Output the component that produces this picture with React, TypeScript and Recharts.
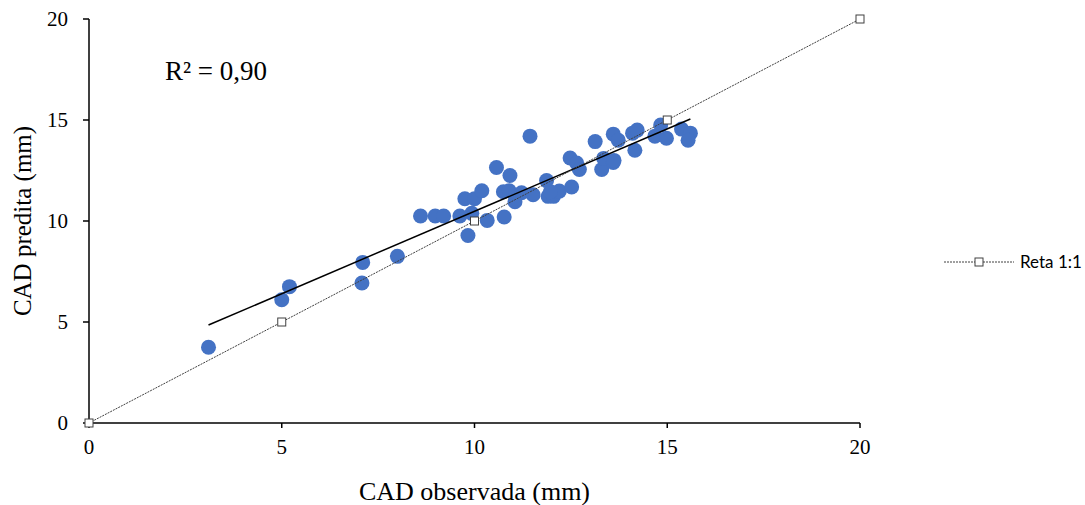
import { ScatterChart, Scatter, XAxis, YAxis } from "recharts";

// CAD observada (mm)
const observed = [
  3.1, 5.0, 5.2, 7.1, 7.08, 8.0, 8.6, 8.98, 9.2, 9.62, 9.93, 9.83, 9.75, 10.0,
  10.19, 10.33, 10.57, 10.77, 10.92, 10.75, 10.9, 11.05, 11.22, 11.52, 11.44,
  11.87, 11.91, 12.05, 12.2, 11.97, 12.52, 12.48, 12.65, 12.72, 13.13, 13.3,
  13.35, 13.6, 13.62, 13.6, 13.73, 14.1, 14.16, 14.22, 14.68, 14.83, 14.98,
  15.37, 15.6, 15.54,
];
// CAD predita (mm)
const predicted = [
  3.75, 6.1, 6.75, 7.95, 6.93, 8.25, 10.25, 10.25, 10.25, 10.25, 10.38, 9.28,
  11.1, 11.1, 11.5, 10.03, 12.65, 10.2, 12.25, 11.45, 11.5, 10.95, 11.4, 11.3,
  14.2, 12.0, 11.22, 11.22, 11.48, 11.45, 11.68, 13.12, 12.87, 12.55, 13.93,
  12.55, 13.1, 12.9, 13.0, 14.3, 14.0, 14.35, 13.5, 14.5, 14.2, 14.75, 14.1,
  14.55, 14.35, 14.0,
];

// linha de tendência (extremos)
const trendX = [3.1, 15.6];
const trendY = [4.85, 15.05];

// reta 1:1
const refValues = [0, 5, 10, 15, 20];
const ticks = [0, 5, 10, 15, 20];

const points = observed.map((x, i) => ({ x, y: predicted[i] }));
const trend = trendX.map((x, i) => ({ x, y: trendY[i] }));
const oneToOne = refValues.map((v) => ({ x: v, y: v }));

const serif = "'Liberation Serif', 'Times New Roman', serif";
const tickStyle = { fontSize: 21, fill: "#000", fontFamily: serif };

const Square = (props: any) => (
  <rect
    x={props.cx - 4}
    y={props.cy - 4}
    width={8}
    height={8}
    fill="#fff"
    stroke="#404040"
    strokeWidth={1}
  />
);

export default function App() {
  return (
    <div style={{ position: "absolute", left: 0, top: 0, width: 1085, height: 505, background: "#fff" }}>
      <ScatterChart width={1085} height={505} margin={{ top: 19, right: 225, left: 9, bottom: 32 }}>
        <XAxis
          type="number"
          dataKey="x"
          domain={[0, 20]}
          ticks={ticks}
          height={50}
          tick={tickStyle}
          tickSize={5}
          tickMargin={11}
          axisLine={{ stroke: "#000", strokeWidth: 1.5 }}
          tickLine={{ stroke: "#000", strokeWidth: 1.5 }}
          label={{ value: "CAD observada (mm)", position: "bottom", offset: 9, style: { fontSize: 26, fill: "#000", fontFamily: serif } }}
        />
        <YAxis
          type="number"
          dataKey="y"
          domain={[0, 20]}
          ticks={ticks}
          width={80}
          tick={tickStyle}
          tickSize={6}
          tickMargin={15}
          axisLine={{ stroke: "#000", strokeWidth: 1.5 }}
          tickLine={{ stroke: "#000", strokeWidth: 1.5 }}
          label={{ value: "CAD predita (mm)", angle: -90, position: "center", dx: -27, style: { fontSize: 25, fill: "#000", fontFamily: serif, textAnchor: "middle" } }}
        />
        <Scatter
          name="CAD"
          data={points}
          fill="#4472C4"
          isAnimationActive={false}
          shape={(p: any) => <circle cx={p.cx} cy={p.cy} r={7.5} fill="#4472C4" />}
        />
        <Scatter
          name="Tendência"
          data={trend}
          line={{ stroke: "#000", strokeWidth: 1.5 }}
          isAnimationActive={false}
          shape={() => <g />}
        />
        <Scatter
          name="Reta 1:1"
          data={oneToOne}
          line={{ stroke: "#404040", strokeWidth: 1, strokeDasharray: "2 1" }}
          isAnimationActive={false}
          shape={<Square />}
        />
      </ScatterChart>
      <div style={{ position: "absolute", left: 165, top: 56, fontFamily: serif, fontSize: 27, color: "#000", whiteSpace: "nowrap" }}>
        R² = 0,90
      </div>
      <div
        style={{
          position: "absolute",
          left: 942,
          top: 251,
          display: "flex",
          alignItems: "center",
          whiteSpace: "nowrap",
          fontFamily: "Lato, 'Open Sans', sans-serif",
          fontSize: 17,
          color: "#000",
        }}
      >
        <svg width={74} height={12}>
          <line x1={2} y1={6} x2={72} y2={6} stroke="#404040" strokeWidth={1} strokeDasharray="2 1" />
          <rect x={33} y={2} width={8} height={8} fill="#fff" stroke="#404040" />
        </svg>
        <span style={{ marginLeft: 4 }}>Reta 1:1</span>
      </div>
    </div>
  );
}
